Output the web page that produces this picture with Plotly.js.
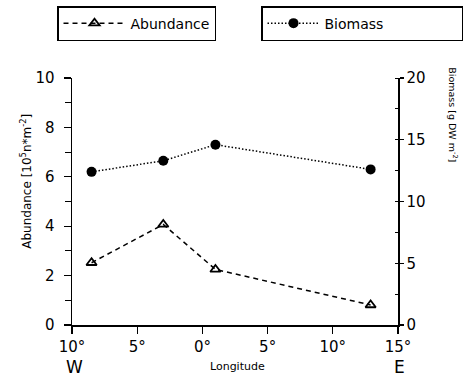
<!DOCTYPE html>
<html>
<head>
<meta charset="utf-8">
<script src="https://cdn.plot.ly/plotly-3.0.1.min.js"></script>
<style>html,body{margin:0;padding:0;background:#fff;}#chart{width:463px;height:377px;}</style>
</head>
<body>
<div id="chart"></div>
<script>
const longitude = [-8.5, -3, 1, 12.9];
const abundance = [2.52, 4.07, 2.25, 0.81];
const biomass = [12.4, 13.3, 14.6, 12.6];
const xTickVals = [-10, -5, 0, 5, 10, 15];
const xTickText = ['10°', '5°', '0°', '5°', '10°', '15°'];

const FONT = 'DejaVu Sans, Arial, sans-serif';

const traces = [
  {
    x: longitude, y: abundance, type: 'scatter', mode: 'lines+markers',
    name: 'Abundance', legend: 'legend',
    line: {color: '#000', width: 1.5, dash: '5px,4px'},
    marker: {symbol: 'triangle-up-open', size: 9, color: '#000', line: {width: 1.8, color: '#000'}},
    cliponaxis: false
  },
  {
    x: longitude, y: biomass, type: 'scatter', mode: 'lines+markers',
    name: 'Biomass', legend: 'legend2', yaxis: 'y2',
    line: {color: '#000', width: 1.5, dash: '1.5px,2px'},
    marker: {symbol: 'circle', size: 10, color: '#000'},
    cliponaxis: false
  }
];

const layout = {
  width: 463, height: 377,
  margin: {l: 72, r: 65, t: 78, b: 52},
  paper_bgcolor: '#fff', plot_bgcolor: '#fff',
  font: {family: FONT, color: '#000'},
  showlegend: true,
  legend: {
    x: -0.046, y: 0.984, xref: 'paper', yref: 'container', xanchor: 'left', yanchor: 'top',
    bordercolor: '#000', borderwidth: 1.5, bgcolor: '#fff',
    font: {size: 14, family: FONT}, orientation: 'h', itemwidth: 62
  },
  legend2: {
    x: 0.614, y: 0.984, xref: 'paper', yref: 'container', xanchor: 'left', yanchor: 'top',
    bordercolor: '#000', borderwidth: 1.5, bgcolor: '#fff',
    font: {size: 14, family: FONT}, orientation: 'h', itemwidth: 52, entrywidth: 132
  },
  xaxis: {
    range: [-10, 15], tickvals: xTickVals, ticktext: xTickText,
    showgrid: false, zeroline: false, showline: true, linecolor: '#000', linewidth: 1.5,
    ticks: 'outside', ticklen: 7, tickwidth: 1.2, tickcolor: '#000',
    tickfont: {size: 15, family: FONT}, fixedrange: true
  },
  yaxis: {
    range: [0, 10], tickvals: [0, 2, 4, 6, 8, 10],
    showgrid: false, zeroline: false, showline: true, linecolor: '#000', linewidth: 1.5,
    ticks: 'outside', ticklen: 7, tickwidth: 1.2, tickcolor: '#000',
    minor: {dtick: 1, ticks: 'outside', ticklen: 6, tickwidth: 1, tickcolor: '#000'},
    tickfont: {size: 15, family: FONT}, ticklabelstandoff: 6, fixedrange: true
  },
  yaxis2: {
    range: [0, 20], tickvals: [0, 5, 10, 15, 20], overlaying: 'y', side: 'right',
    showgrid: false, zeroline: false, showline: true, linecolor: '#000', linewidth: 1.5,
    ticks: 'outside', ticklen: 4, tickwidth: 1.2, tickcolor: '#000',
    minor: {dtick: 2.5, ticks: 'inside', ticklen: 3, tickwidth: 1, tickcolor: '#000'},
    tickfont: {size: 15, family: FONT}, fixedrange: true
  },
  annotations: [
    {text: 'Abundance [10<sup>5</sup>n*m<sup>-2</sup>]', xref: 'paper', yref: 'paper',
     x: -0.141, y: 0.58, xanchor: 'center', yanchor: 'middle', textangle: -90, showarrow: false, font: {size: 12, family: FONT}},
    {text: 'Biomass [g DW m<sup>-2</sup>]', xref: 'paper', yref: 'paper',
     x: 1.168, y: 0.85, xanchor: 'center', yanchor: 'middle', textangle: 90, showarrow: false, font: {size: 9.5, family: FONT}},
    {text: 'Longitude', xref: 'paper', yref: 'paper', x: 0.508, y: -0.17, xanchor: 'center', yanchor: 'middle', showarrow: false,
     font: {size: 11, family: FONT}},
    {text: 'W', xref: 'paper', yref: 'paper', x: 0.009, y: -0.17, xanchor: 'center', yanchor: 'middle', showarrow: false,
     font: {size: 17, family: FONT}},
    {text: 'E', xref: 'paper', yref: 'paper', x: 1.005, y: -0.17, xanchor: 'center', yanchor: 'middle', showarrow: false,
     font: {size: 17, family: FONT}}
  ]
};

Plotly.newPlot('chart', traces, layout, {displayModeBar: false, staticPlot: true});
</script>
</body>
</html>
